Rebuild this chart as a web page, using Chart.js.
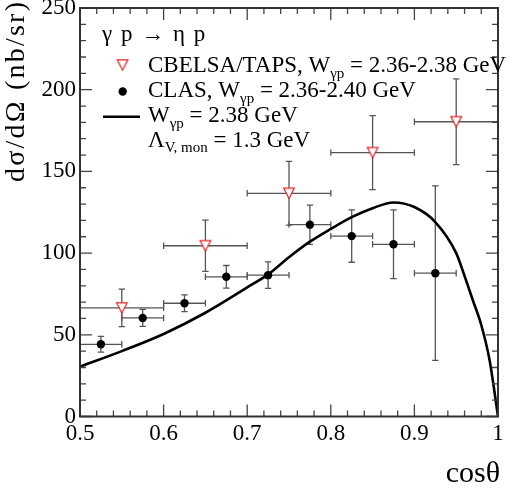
<!DOCTYPE html>
<html>
<head>
<meta charset="utf-8">
<script src="https://cdn.jsdelivr.net/npm/chart.js@4.4.1/dist/chart.umd.min.js"></script>
<style>
  html, body { margin: 0; padding: 0; background: #fff; }
  #wrap { width: 509px; height: 490px; position: relative; }
</style>
</head>
<body>
<div id="wrap"><canvas id="c" width="509" height="490"></canvas></div>
<script>
// ---------- data ----------
const xTickLabels = ['0.5', '0.6', '0.7', '0.8', '0.9', '1'];
const yTickLabels = ['0', '50', '100', '150', '200', '250'];

// CBELSA/TAPS (open red triangles)
const cbX    = [0.55, 0.65, 0.75, 0.85, 0.95];
const cbY    = [66.5, 104.5, 136.6, 161.5, 180.4];
const cbYErr = [11.5, 15.7, 19.5, 22.6, 26.2];
const cbXErr = [0.05, 0.05, 0.05, 0.05, 0.05];

// CLAS (black dots)
const clasX    = [0.525, 0.575, 0.625, 0.675, 0.725, 0.775, 0.825, 0.875, 0.925];
const clasY    = [44.2, 60.3, 69.3, 85.5, 86.5, 117.4, 110.4, 105.4, 87.7];
const clasYErr = [4.8, 5.2, 5.1, 6.9, 8.1, 12.0, 16.0, 21.0, 53.4];
const clasXErr = [0.025, 0.025, 0.025, 0.025, 0.025, 0.025, 0.025, 0.025, 0.025];

// Model curve, W = 2.38 GeV
const curveX = [0.5, 0.55, 0.6, 0.65, 0.7, 0.725, 0.75, 0.775, 0.8, 0.825, 0.85, 0.875, 0.9, 0.925, 0.95, 0.96, 0.97, 0.98, 0.99, 1.0];
const curveY = [30.5, 40, 50.5, 63.5, 79, 87, 97.5, 107, 114.8, 122, 127.5, 131, 128.2, 119, 100, 86, 71, 56, 34.3, 0];

// ---------- styles ----------
const SERIF = "'Liberation Serif', 'Times New Roman', Times, 'DejaVu Serif', serif";
const RED = '#e32222';
const ERR = '#555555';
const FRAME = '#333333';

function makeTriangle() {
  const cv = document.createElement('canvas');
  cv.width = 14; cv.height = 14;
  const g = cv.getContext('2d');
  g.beginPath();
  g.moveTo(1.7, 1.8); g.lineTo(12.3, 1.8); g.lineTo(7, 12.2); g.closePath();
  g.fillStyle = '#fff'; g.fill();
  g.strokeStyle = RED; g.lineWidth = 1.2; g.stroke();
  return cv;
}
const triImg = makeTriangle();

const zip = (xs, ys) => xs.map((x, i) => ({ x: x, y: ys[i] }));

function drawErrBars(ctx, xs, ys, xe, ye, sx, sy) {
  ctx.save();
  ctx.strokeStyle = ERR;
  ctx.lineWidth = 1.3;
  const cap = 3.2;
  for (let i = 0; i < xs.length; i++) {
    const px = sx.getPixelForValue(xs[i]);
    const py = sy.getPixelForValue(ys[i]);
    const x0 = sx.getPixelForValue(xs[i] - xe[i]);
    const x1 = sx.getPixelForValue(xs[i] + xe[i]);
    const y0 = sy.getPixelForValue(ys[i] - ye[i]);
    const y1 = sy.getPixelForValue(ys[i] + ye[i]);
    ctx.beginPath();
    ctx.moveTo(x0, py); ctx.lineTo(x1, py);
    ctx.moveTo(px, y0); ctx.lineTo(px, y1);
    ctx.moveTo(x0, py - cap); ctx.lineTo(x0, py + cap);
    ctx.moveTo(x1, py - cap); ctx.lineTo(x1, py + cap);
    ctx.moveTo(px - cap, y0); ctx.lineTo(px + cap, y0);
    ctx.moveTo(px - cap, y1); ctx.lineTo(px + cap, y1);
    ctx.stroke();
  }
  ctx.restore();
}

function drawRich(ctx, x, y, parts, mainSize, subSize, subShift) {
  for (const p of parts) {
    ctx.font = (p.sub ? subSize : mainSize) + 'px ' + SERIF;
    ctx.fillText(p.t, x, y + (p.sub ? subShift : 0));
    x += ctx.measureText(p.t).width;
  }
}

const rootPlugin = {
  id: 'rootStyle',
  beforeDatasetsDraw(chart) {
    const ctx = chart.ctx, sx = chart.scales.x, sy = chart.scales.y;
    ctx.save();
    const a = chart.chartArea;
    ctx.beginPath(); ctx.rect(a.left, a.top, a.right - a.left, a.bottom - a.top); ctx.clip();
    drawErrBars(ctx, clasX, clasY, clasXErr, clasYErr, sx, sy);
    drawErrBars(ctx, cbX, cbY, cbXErr, cbYErr, sx, sy);
    ctx.restore();
  },
  afterDraw(chart) {
    const ctx = chart.ctx, sx = chart.scales.x, sy = chart.scales.y;
    const a = chart.chartArea;
    ctx.save();
    ctx.strokeStyle = '#444';
    ctx.lineWidth = 1.3;
    ctx.beginPath();
    for (let k = 0; k <= 25; k++) {
      const v = 0.5 + k * 0.02;
      const px = sx.getPixelForValue(v);
      const len = (k % 5 === 0) ? 12 : 6;
      ctx.moveTo(px, a.bottom); ctx.lineTo(px, a.bottom - len);
      ctx.moveTo(px, a.top); ctx.lineTo(px, a.top + len);
    }
    for (let k = 0; k <= 25; k++) {
      const v = k * 10;
      const py = sy.getPixelForValue(v);
      const len = (k % 5 === 0) ? 12 : 6;
      ctx.moveTo(a.left, py); ctx.lineTo(a.left + len, py);
      ctx.moveTo(a.right, py); ctx.lineTo(a.right - len, py);
    }
    ctx.stroke();
    ctx.strokeStyle = FRAME;
    ctx.lineWidth = 2;
    ctx.strokeRect(a.left, a.top, a.right - a.left, a.bottom - a.top);

    // x title
    ctx.fillStyle = '#000';
    ctx.font = '30px ' + SERIF;
    ctx.textAlign = 'right';
    ctx.textBaseline = 'alphabetic';
    ctx.fillText('cos\u03B8', 500, 482);

    // y title (spans y = 182 .. 1 in the reference)
    ctx.save();
    const yTitle = 'd\u03C3/d\u03A9 (nb/sr)';
    ctx.font = '28px ' + SERIF;
    const natural = ctx.measureText(yTitle).width;
    const ls = Math.max(0, (180 - natural) / (yTitle.length - 1));
    if ('letterSpacing' in ctx) ctx.letterSpacing = ls.toFixed(2) + 'px';
    ctx.translate(24, 182);
    ctx.rotate(-Math.PI / 2);
    ctx.textAlign = 'left';
    ctx.textBaseline = 'alphabetic';
    ctx.fillText(yTitle, 0, 0);
    ctx.restore();

    // legend
    ctx.textAlign = 'left';
    ctx.textBaseline = 'alphabetic';
    ctx.fillStyle = '#000';
    ctx.save();
    ctx.font = '23px ' + SERIF;
    if ('wordSpacing' in ctx) ctx.wordSpacing = '3px';
    ctx.fillText('\u03B3 p \u2192 \u03B7 p', 102, 41);
    ctx.restore();

    drawRich(ctx, 148, 72, [
      { t: 'CBELSA/TAPS, W' }, { t: '\u03B3p', sub: true }, { t: ' = 2.36-2.38 GeV' }
    ], 23, 15, 6);
    drawRich(ctx, 148, 97, [
      { t: 'CLAS, W' }, { t: '\u03B3p', sub: true }, { t: ' = 2.36-2.40 GeV' }
    ], 23, 15, 6);
    drawRich(ctx, 148, 122, [
      { t: 'W' }, { t: '\u03B3p', sub: true }, { t: ' = 2.38 GeV' }
    ], 23, 15, 6);
    drawRich(ctx, 148, 147, [
      { t: '\u039B' }, { t: 'V, mon', sub: true }, { t: ' = 1.3 GeV' }
    ], 23, 15, 5);

    ctx.drawImage(triImg, 122.5 - 7, 65 - 7);
    ctx.beginPath();
    ctx.arc(122.7, 91.5, 4.2, 0, Math.PI * 2);
    ctx.fillStyle = '#000';
    ctx.fill();
    ctx.beginPath();
    ctx.moveTo(103, 116.7); ctx.lineTo(140, 116.7);
    ctx.strokeStyle = '#000';
    ctx.lineWidth = 2.6;
    ctx.stroke();
    ctx.restore();
  }
};

function build() {
  new Chart(document.getElementById('c'), {
    type: 'scatter',
    data: {
      datasets: [
        {
          label: 'W = 2.38 GeV',
          data: zip(curveX, curveY),
          showLine: true,
          borderColor: '#000',
          borderWidth: 2.6,
          pointRadius: 0,
          cubicInterpolationMode: 'monotone',
          fill: false,
          order: 3
        },
        {
          label: 'CLAS',
          data: zip(clasX, clasY),
          pointStyle: 'circle',
          pointRadius: 4.2,
          backgroundColor: '#000',
          borderWidth: 0,
          order: 2
        },
        {
          label: 'CBELSA/TAPS',
          data: zip(cbX, cbY),
          pointStyle: triImg,
          pointRadius: 7,
          order: 1
        }
      ]
    },
    options: {
      responsive: false,
      devicePixelRatio: 1,
      animation: false,
      layout: { padding: { top: 6, right: 11, left: 0, bottom: 0 } },
      plugins: { legend: { display: false }, tooltip: { enabled: false } },
      events: [],
      scales: {
        x: {
          type: 'linear', min: 0.5, max: 1,
          grid: { display: false, drawTicks: false },
          border: { display: false },
          ticks: {
            stepSize: 0.1,
            padding: 4,
            color: '#000',
            font: { family: SERIF, size: 23 },
            maxRotation: 0,
            callback: (v) => {
              const i = Math.round((v - 0.5) / 0.1);
              return xTickLabels[i] !== undefined ? xTickLabels[i] : '';
            }
          },
          afterFit: (s) => { s.height = 73.5; s.paddingLeft = 0; s.paddingRight = 0; }
        },
        y: {
          type: 'linear', min: 0, max: 250,
          grid: { display: false, drawTicks: false },
          border: { display: false },
          ticks: {
            stepSize: 50,
            padding: 4,
            color: '#000',
            font: { family: SERIF, size: 23 },
            callback: (v) => {
              const i = Math.round(v / 50);
              return yTickLabels[i] !== undefined ? yTickLabels[i] : '';
            }
          },
          afterFit: (s) => { s.width = 80; s.paddingTop = 0; s.paddingBottom = 0; }
        }
      }
    },
    plugins: [rootPlugin]
  });
}

const loads = [
  document.fonts.load("23px 'Liberation Serif'"),
  document.fonts.load("15px 'Liberation Serif'", "\u03B3\u03B7\u03C3\u03A9\u039B")
];
Promise.all(loads).then(build, build);
</script>
</body>
</html>
